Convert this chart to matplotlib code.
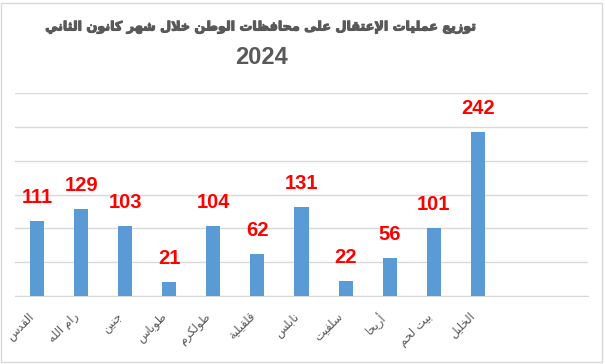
import matplotlib
matplotlib.use("Agg")
import matplotlib.pyplot as plt
from matplotlib.patches import Rectangle
import matplotlib.patheffects as pe

# ---------------- data ----------------
categories = ["القدس", "رام الله", "جنين", "طوباس", "طولكرم", "قلقيلية",
              "نابلس", "سلفيت", "أريحا", "بيت لحم", "الخليل"]
values = [111, 129, 103, 21, 104, 62, 131, 22, 56, 101, 242]
title_line1 = "توزيع عمليات الإعتقال على محافظات الوطن خلال شهر كانون الثاني"
title_line2 = "2024"

# ---------------- minimal Arabic shaping ----------------
FORMS = {
    '\u0627': ('\uFE8D', '\uFE8E', None, None),
    '\u0623': ('\uFE83', '\uFE84', None, None),
    '\u0625': ('\uFE87', '\uFE88', None, None),
    '\u0622': ('\uFE81', '\uFE82', None, None),
    '\u0628': ('\uFE8F', '\uFE90', '\uFE91', '\uFE92'),
    '\u0629': ('\uFE93', '\uFE94', None, None),
    '\u062A': ('\uFE95', '\uFE96', '\uFE97', '\uFE98'),
    '\u062B': ('\uFE99', '\uFE9A', '\uFE9B', '\uFE9C'),
    '\u062C': ('\uFE9D', '\uFE9E', '\uFE9F', '\uFEA0'),
    '\u062D': ('\uFEA1', '\uFEA2', '\uFEA3', '\uFEA4'),
    '\u062E': ('\uFEA5', '\uFEA6', '\uFEA7', '\uFEA8'),
    '\u062F': ('\uFEA9', '\uFEAA', None, None),
    '\u0630': ('\uFEAB', '\uFEAC', None, None),
    '\u0631': ('\uFEAD', '\uFEAE', None, None),
    '\u0632': ('\uFEAF', '\uFEB0', None, None),
    '\u0633': ('\uFEB1', '\uFEB2', '\uFEB3', '\uFEB4'),
    '\u0634': ('\uFEB5', '\uFEB6', '\uFEB7', '\uFEB8'),
    '\u0635': ('\uFEB9', '\uFEBA', '\uFEBB', '\uFEBC'),
    '\u0636': ('\uFEBD', '\uFEBE', '\uFEBF', '\uFEC0'),
    '\u0637': ('\uFEC1', '\uFEC2', '\uFEC3', '\uFEC4'),
    '\u0638': ('\uFEC5', '\uFEC6', '\uFEC7', '\uFEC8'),
    '\u0639': ('\uFEC9', '\uFECA', '\uFECB', '\uFECC'),
    '\u063A': ('\uFECD', '\uFECE', '\uFECF', '\uFED0'),
    '\u0641': ('\uFED1', '\uFED2', '\uFED3', '\uFED4'),
    '\u0642': ('\uFED5', '\uFED6', '\uFED7', '\uFED8'),
    '\u0643': ('\uFED9', '\uFEDA', '\uFEDB', '\uFEDC'),
    '\u0644': ('\uFEDD', '\uFEDE', '\uFEDF', '\uFEE0'),
    '\u0645': ('\uFEE1', '\uFEE2', '\uFEE3', '\uFEE4'),
    '\u0646': ('\uFEE5', '\uFEE6', '\uFEE7', '\uFEE8'),
    '\u0647': ('\uFEE9', '\uFEEA', '\uFEEB', '\uFEEC'),
    '\u0648': ('\uFEED', '\uFEEE', None, None),
    '\u0649': ('\uFEEF', '\uFEF0', None, None),
    '\u064A': ('\uFEF1', '\uFEF2', '\uFEF3', '\uFEF4'),
}
LAM_ALEF = {
    '\u0627': ('\uFEFB', '\uFEFC'),
    '\u0623': ('\uFEF7', '\uFEF8'),
    '\u0625': ('\uFEF9', '\uFEFA'),
    '\u0622': ('\uFEF5', '\uFEF6'),
}


def shape_ar(text):
    tokens = []
    i = 0
    while i < len(text):
        c = text[i]
        if c == '\u0644' and i + 1 < len(text) and text[i + 1] in LAM_ALEF:
            tokens.append(('LA', text[i + 1]))
            i += 2
        else:
            tokens.append(('C', c))
            i += 1

    def joins_next(t):
        if t[0] == 'LA':
            return False
        f = FORMS.get(t[1])
        return f is not None and f[2] is not None

    def joins_prev(t):
        return t[0] == 'LA' or t[1] in FORMS

    res = []
    for k, t in enumerate(tokens):
        prev = tokens[k - 1] if k > 0 else None
        nxt = tokens[k + 1] if k + 1 < len(tokens) else None
        p = prev is not None and joins_next(prev) and joins_prev(t)
        if t[0] == 'LA':
            iso, fin = LAM_ALEF[t[1]]
            res.append(fin if p else iso)
            continue
        f = FORMS.get(t[1])
        if f is None:
            res.append(t[1])
            continue
        nx = nxt is not None and joins_next(t) and joins_prev(nxt)
        iso, fin, ini, med = f
        if p and nx:
            res.append(med)
        elif p:
            res.append(fin)
        elif nx:
            res.append(ini)
        else:
            res.append(iso)
    return ''.join(reversed(res))


# ---------------- figure ----------------
W, H = 605, 364
fig = plt.figure(figsize=(W / 100, H / 100), dpi=100)
fig.patch.set_facecolor('white')

# chart-area border
fig.add_artist(Rectangle((1 / W, 2 / H), 601 / W, 359 / H, transform=fig.transFigure,
                         fill=False, edgecolor='#D9D9D9', linewidth=1.0))

ax = fig.add_axes([15 / W, 1 - 296 / H, (588 - 15) / W, (296 - 93) / H])
x = list(range(len(values)))
ax.bar(x, values, width=0.32, color='#5B9BD5', zorder=3)
ax.set_xlim(-0.5, 12.5)
ax.set_ylim(0, 300)
ax.set_yticks(range(0, 301, 50))
ax.yaxis.grid(True, color='#D9D9D9', linewidth=1.0, zorder=0)
ax.tick_params(axis='y', length=0, labelleft=False)
for s in ['top', 'right', 'left']:
    ax.spines[s].set_visible(False)
ax.spines['bottom'].set_color('#D9D9D9')
ax.set_xticks(x)
ax.set_xticklabels([shape_ar(c) for c in categories], rotation=45, ha='right',
                   va='top', fontsize=8.5, color='#595959',
                   family=['DejaVu Sans'])
ax.tick_params(axis='x', length=0, pad=10)

for xi, v in zip(x, values):
    ax.annotate(str(v), (xi, v), xytext=(0, 10), textcoords='offset points',
                ha='center', va='bottom', color='#FF0000', fontsize=14.5,
                fontweight='bold', family=['Liberation Sans', 'DejaVu Sans'])

t1 = fig.text(261 / W, 1 - 27 / H, shape_ar(title_line1), ha='center', va='center',
              fontsize=12, fontweight='bold', color='#595959',
              family=['DejaVu Sans'],
              path_effects=[pe.withStroke(linewidth=0.8, foreground='#595959')])
# fit title width (reference title is wide, narrow-letter font)
fig.canvas.draw()
wpx = t1.get_window_extent(renderer=fig.canvas.get_renderer()).width
t1.set_fontsize(12 * 430 / wpx)

fig.text(261 / W, 1 - 57 / H, title_line2, ha='center', va='center',
         fontsize=17, fontweight='bold', color='#595959',
         family=['Liberation Sans Narrow', 'Liberation Sans', 'DejaVu Sans'])

fig.savefig('out.png', dpi=100)
